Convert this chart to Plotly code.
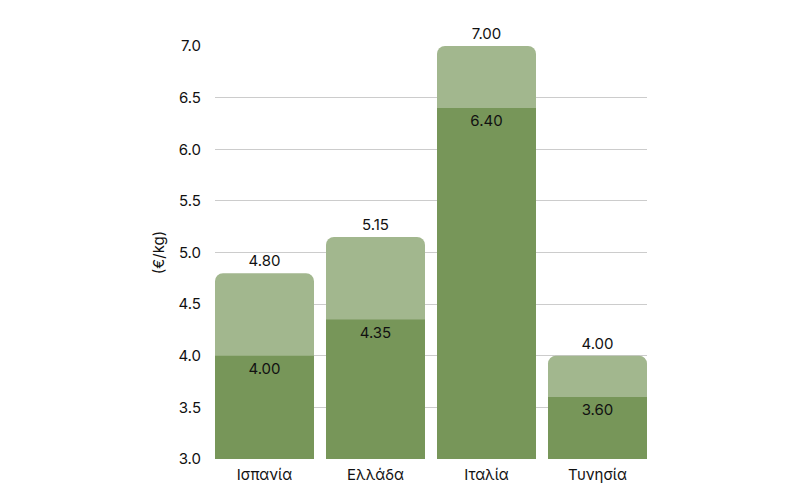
import plotly.graph_objects as go

countries = ["Ισπανία", "Ελλάδα", "Ιταλία", "Τυνησία"]
price_high = [4.80, 5.15, 7.00, 4.00]
price_low = [4.00, 4.35, 6.40, 3.60]
y_ticks = [3.0, 3.5, 4.0, 4.5, 5.0, 5.5, 6.0, 6.5, 7.0]

FONT = "Inter, Noto Sans, sans-serif"
bw = 99 / 111

fig = go.Figure()
fig.add_trace(go.Bar(
    x=countries, y=price_high, width=bw,
    marker=dict(color="#A2B78E", cornerradius=8, line=dict(width=0)),
    text=[f"{v:.2f}" for v in price_high], textposition="outside",
    textfont=dict(family=FONT, size=15, color="#111"),
    cliponaxis=False, constraintext="none", hoverinfo="skip",
))
fig.add_trace(go.Bar(
    x=countries, y=price_low, width=bw,
    marker=dict(color="#779659", line=dict(width=0)),
    text=[f"{v:.2f}" for v in price_low], textposition="inside",
    insidetextanchor="end",
    textfont=dict(family=FONT, size=15, color="#111"),
    cliponaxis=False, constraintext="none", hoverinfo="skip",
))
fig.update_layout(
    width=800, height=500,
    margin=dict(l=215, r=153, t=46, b=41),
    barmode="overlay",
    plot_bgcolor="white", paper_bgcolor="white",
    showlegend=False,
    font=dict(family=FONT, size=15, color="#111"),
    uniformtext=dict(mode=False),
)
fig.update_xaxes(range=[-bw / 2, 3 + bw / 2], showgrid=False, showline=False,
                 ticks="", ticklabelstandoff=5,
                 tickfont=dict(size=15, family=FONT, color="#111"))
fig.update_yaxes(range=[3, 7], tickvals=y_ticks, ticktext=[f"{v:.1f}" for v in y_ticks],
                 showgrid=True, gridcolor="#cccccc", gridwidth=1, zeroline=False,
                 ticks="", ticklen=0, ticklabelstandoff=13,
                 tickfont=dict(size=15, family=FONT, color="#111"),
                 title=dict(text="(€/kg)", font=dict(size=15, family=FONT, color="#111"), standoff=10))
fig.write_html("out.html")
